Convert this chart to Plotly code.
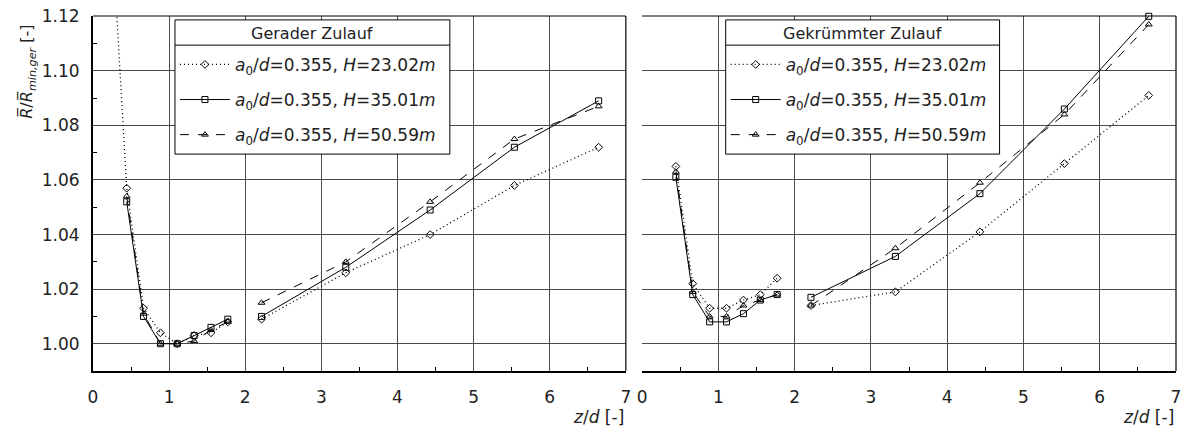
import plotly.graph_objects as go

# z/d stations (near field and far field are measured separately, no line between them)
zd_near = [0.443, 0.664, 0.886, 1.107, 1.329, 1.550, 1.771]
zd_far = [2.214, 3.321, 4.429, 5.536, 6.643]
zd_first = 0.221  # extra upstream point, only in the straight-inlet H=23.02m series

# Gerader Zulauf
ger_h23_first = 1.165
ger_h23_near = [1.057, 1.013, 1.004, 1.000, 1.003, 1.004, 1.008]
ger_h23_far = [1.009, 1.026, 1.040, 1.058, 1.072]
ger_h35_near = [1.052, 1.010, 1.000, 1.000, 1.003, 1.006, 1.009]
ger_h35_far = [1.010, 1.028, 1.049, 1.072, 1.089]
ger_h50_near = [1.054, 1.011, 1.000, 1.000, 1.001, 1.005, 1.008]
ger_h50_far = [1.015, 1.030, 1.052, 1.075, 1.087]

# Gekruemmter Zulauf
gek_h23_near = [1.065, 1.022, 1.013, 1.013, 1.016, 1.018, 1.024]
gek_h23_far = [1.014, 1.019, 1.041, 1.066, 1.091]
gek_h35_near = [1.061, 1.018, 1.008, 1.008, 1.011, 1.016, 1.018]
gek_h35_far = [1.017, 1.032, 1.055, 1.086, 1.120]
gek_h50_near = [1.063, 1.019, 1.010, 1.010, 1.014, 1.016, 1.018]
gek_h50_far = [1.014, 1.035, 1.059, 1.084, 1.117]

panel_titles = ["Gerader Zulauf", "Gekrümmter Zulauf"]
labels = [
    "<i>a</i><sub>0</sub>/<i>d</i>=0.355, <i>H</i>=23.02<i>m</i>",
    "<i>a</i><sub>0</sub>/<i>d</i>=0.355, <i>H</i>=35.01<i>m</i>",
    "<i>a</i><sub>0</sub>/<i>d</i>=0.355, <i>H</i>=50.59<i>m</i>",
]
symbols = ["diamond-open", "square-open", "triangle-up-open"]
dashes = ["1px,3px", "solid", "dash"]
widths = [1.3, 1, 1]

FONT = "DejaVu Sans"
TXT = "#222"
fig = go.Figure()


def add_series(xs, ys, i, xaxis, legend, clip):
    fig.add_trace(go.Scatter(
        x=xs, y=ys, mode="lines+markers", name=labels[i],
        line=dict(color="black", width=widths[i], dash=dashes[i]),
        marker=dict(symbol=symbols[i], size=6, color="black", line=dict(width=1)),
        connectgaps=False, cliponaxis=clip,
        xaxis=xaxis, yaxis="y", legend=legend, legendgroup=legend + str(i),
    ))


left = [
    ([zd_first] + zd_near, [ger_h23_first] + ger_h23_near, ger_h23_far),
    (zd_near, ger_h35_near, ger_h35_far),
    (zd_near, ger_h50_near, ger_h50_far),
]
for i, (xn, yn, yf) in enumerate(left):
    add_series(xn + [None] + zd_far, yn + [None] + yf, i, "x", "legend", True)

right = [
    (gek_h23_near, gek_h23_far),
    (gek_h35_near, gek_h35_far),
    (gek_h50_near, gek_h50_far),
]
for i, (yn, yf) in enumerate(right):
    add_series(zd_near + [None] + zd_far, yn + [None] + yf, i, "x2", "legend2", False)

xcommon = dict(
    range=[0, 7.0001], dtick=1, tick0=0, showgrid=True, gridcolor="#4a4a4a", gridwidth=1,
    zeroline=False, showline=True, linecolor="black", linewidth=2,
    ticks="", ticklabelstandoff=10, ticklabeloverflow="allow", anchor="y",
    minor=dict(dtick=0.5, ticks="inside", ticklen=4, tickcolor="black", showgrid=False),
    tickfont=dict(size=17, color=TXT),
)
fig.update_layout(
    width=1193, height=434,
    margin=dict(l=93, r=17, t=6, b=63),
    paper_bgcolor="white", plot_bgcolor="white",
    font=dict(family=FONT, size=17, color=TXT),
    xaxis=dict(domain=[0, 0.492], **xcommon),
    xaxis2=dict(domain=[0.507, 1], **xcommon),
    yaxis=dict(
        range=[0.99, 1.1201], dtick=0.02, tick0=1.0, tickformat=".2f",
        showgrid=True, gridcolor="#4a4a4a", gridwidth=1, zeroline=False,
        showline=True, linecolor="black", linewidth=2, ticks="", ticklabelstandoff=8,
        ticklabeloverflow="allow",
        minor=dict(dtick=0.01, ticks="inside", ticklen=4, tickcolor="black", showgrid=False),
        tickfont=dict(size=17, color=TXT),
    ),
    showlegend=True,
)

legend_common = dict(
    bgcolor="rgba(0,0,0,0)", borderwidth=0,
    xanchor="left", yanchor="top", y=0.913,
    traceorder="grouped", tracegroupgap=10,
    font=dict(family=FONT, size=17, color=TXT),
    itemwidth=50,
)
fig.update_layout(
    legend=dict(x=0.0757, **legend_common),
    legend2=dict(x=0.5842, **legend_common),
)

# thin top/right frame lines for each panel
for xr in ["x domain", "x2 domain"]:
    fig.add_shape(type="line", xref=xr, yref="y domain", x0=0, x1=1, y0=1, y1=1,
                  line=dict(color="black", width=1))
    fig.add_shape(type="line", xref=xr, yref="y domain", x0=1, x1=1, y0=0, y1=1,
                  line=dict(color="black", width=1.2))

# legend boxes with title row and separator
for (bx0, bx1), title in zip([(0.0757, 0.3295), (0.5842, 0.8371)], panel_titles):
    fig.add_shape(type="rect", xref="paper", yref="paper", x0=bx0, x1=bx1, y0=0.611, y1=0.989,
                  fillcolor="white", line=dict(color="black", width=1), layer="above")
    fig.add_shape(type="line", xref="paper", yref="paper", x0=bx0, x1=bx1, y0=0.918, y1=0.918,
                  line=dict(color="black", width=1), layer="above")
    fig.add_annotation(text=title, xref="paper", yref="paper", x=(bx0 + bx1) / 2, y=0.951,
                       xanchor="center", yanchor="middle", showarrow=False,
                       font=dict(family=FONT, size=16, color=TXT))

# axis titles
for xr in ["x domain", "x2 domain"]:
    fig.add_annotation(text="<i>z</i>/<i>d</i> [-]", xref=xr, yref="paper", x=1, y=-0.129,
                       xanchor="right", yanchor="middle", showarrow=False,
                       font=dict(family=FONT, size=17, color=TXT))
fig.add_annotation(text="<i>R\u0305</i>/<i>R\u0305</i><sub><i>min,ger</i></sub> [-]",
                   xref="paper", yref="paper", x=-0.060, y=0.981,
                   xanchor="center", yanchor="top", textangle=-90, showarrow=False,
                   font=dict(family=FONT, size=16, color=TXT))

fig.write_html("out.html", config={"displayModeBar": False},
               post_script="document.body.style.margin='0';")
